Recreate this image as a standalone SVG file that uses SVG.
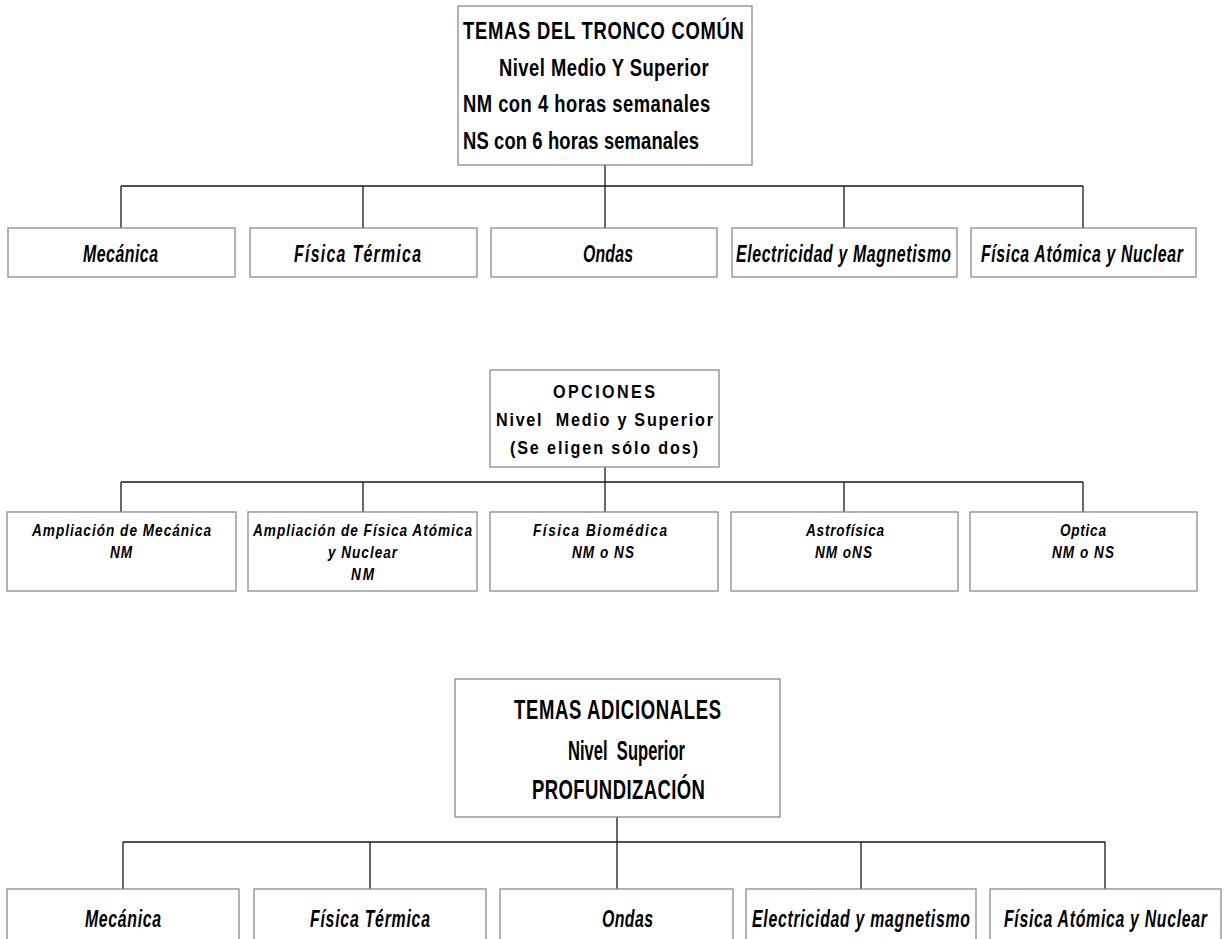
<svg xmlns="http://www.w3.org/2000/svg" width="1226" height="939" viewBox="0 0 1226 939">
<style>
.box{fill:#ffffff;stroke:#8a8a8a;stroke-width:1.3}
.con{fill:none;stroke:#1a1a1a;stroke-width:1.3}
.h{font-family:"Liberation Sans",Arial,sans-serif;font-weight:bold;fill:#000}
.c{font-family:"Liberation Sans",Arial,sans-serif;font-weight:bold;font-style:italic;fill:#000}
.h1{font-size:23px}
.h2{font-size:19px}
.h3{font-size:28px}
.c1{font-size:24px}
.c2{font-size:16px}
</style>
<rect width="1226" height="939" fill="#ffffff"/>
<g id="connectors">
<path class="con" d="M605 165V228M121 186H1083M121 186V228M363 186V228M844 186V228M1083 186V228"/>
<path class="con" d="M605 467V512M121 482H1083M121 482V512M363 482V512M844 482V512M1083 482V512"/>
<path class="con" d="M617 817V889M123 842H1105M123 842V889M370 842V889M861 842V889M1105 842V889"/>
</g>
<g id="tronco">
<rect class="box" x="458" y="6" width="294" height="159"/>
<text class="h h1" transform="matrix(0.8 0 0 1 463 39)" textLength="351" lengthAdjust="spacing">TEMAS DEL TRONCO COMÚN</text>
<text class="h h1" transform="matrix(0.8 0 0 1 499 76)" textLength="262" lengthAdjust="spacing">Nivel Medio Y Superior</text>
<text class="h h1" transform="matrix(0.8 0 0 1 463 112)" textLength="309" lengthAdjust="spacing">NM con 4 horas semanales</text>
<text class="h h1" transform="matrix(0.8 0 0 1 463 149)" textLength="295" lengthAdjust="spacing">NS con 6 horas semanales</text>
</g>
<g id="t-mecanica">
<rect class="box" x="8" y="228" width="227" height="49"/>
<text class="c c1" transform="matrix(0.66 0 0 1 83 262)" textLength="113.6" lengthAdjust="spacing">Mecánica</text>
</g>
<g id="t-termica">
<rect class="box" x="250" y="228" width="227" height="49"/>
<text class="c c1" transform="matrix(0.66 0 0 1 294 262)" textLength="192.4" lengthAdjust="spacing">Física Térmica</text>
</g>
<g id="t-ondas">
<rect class="box" x="491" y="228" width="226" height="49"/>
<text class="c c1" transform="matrix(0.66 0 0 1 583 262)" textLength="75.8" lengthAdjust="spacing">Ondas</text>
</g>
<g id="t-electricidad">
<rect class="box" x="732" y="228" width="225" height="49"/>
<text class="c c1" transform="matrix(0.66 0 0 1 736 262)" textLength="325.8" lengthAdjust="spacing">Electricidad y Magnetismo</text>
</g>
<g id="t-atomica">
<rect class="box" x="971" y="228" width="225" height="49"/>
<text class="c c1" transform="matrix(0.66 0 0 1 981 262)" textLength="306" lengthAdjust="spacing">Física Atómica y Nuclear</text>
</g>
<g id="opciones">
<rect class="box" x="490" y="370" width="229" height="97"/>
<text class="h h2" transform="matrix(0.85 0 0 1 553 398)" textLength="120" lengthAdjust="spacing">OPCIONES</text>
<text class="h h2" transform="matrix(0.85 0 0 1 496 426)" textLength="255.3" lengthAdjust="spacing" xml:space="preserve">Nivel  Medio y Superior</text>
<text class="h h2" transform="matrix(0.85 0 0 1 510 454)" textLength="221.2" lengthAdjust="spacing">(Se eligen sólo dos)</text>
</g>
<g id="o-mecanica">
<rect class="box" x="7" y="512" width="229" height="79"/>
<text class="c c2" transform="matrix(0.85 0 0 1 32 536)" textLength="210.6" lengthAdjust="spacing">Ampliación de Mecánica</text>
<text class="c c2" transform="matrix(0.85 0 0 1 110 558)" textLength="25.9" lengthAdjust="spacing">NM</text>
</g>
<g id="o-atomica">
<rect class="box" x="248" y="512" width="229" height="79"/>
<text class="c c2" transform="matrix(0.85 0 0 1 253 536)" textLength="257.6" lengthAdjust="spacing">Ampliación de Física Atómica</text>
<text class="c c2" transform="matrix(0.85 0 0 1 328 558)" textLength="81.2" lengthAdjust="spacing">y Nuclear</text>
<text class="c c2" transform="matrix(0.85 0 0 1 351 580)" textLength="27.1" lengthAdjust="spacing">NM</text>
</g>
<g id="o-biomedica">
<rect class="box" x="490" y="512" width="228" height="79"/>
<text class="c c2" transform="matrix(0.85 0 0 1 533 536)" textLength="157.6" lengthAdjust="spacing">Física Biomédica</text>
<text class="c c2" transform="matrix(0.85 0 0 1 572 558)" textLength="72.9" lengthAdjust="spacing">NM o NS</text>
</g>
<g id="o-astrofisica">
<rect class="box" x="731" y="512" width="227" height="79"/>
<text class="c c2" transform="matrix(0.85 0 0 1 806 536)" textLength="91.8" lengthAdjust="spacing">Astrofísica</text>
<text class="c c2" transform="matrix(0.85 0 0 1 815 558)" textLength="67" lengthAdjust="spacing">NM oNS</text>
</g>
<g id="o-optica">
<rect class="box" x="970" y="512" width="227" height="79"/>
<text class="c c2" transform="matrix(0.85 0 0 1 1060 536)" textLength="54.1" lengthAdjust="spacing">Optica</text>
<text class="c c2" transform="matrix(0.85 0 0 1 1052 558)" textLength="72.9" lengthAdjust="spacing">NM o NS</text>
</g>
<g id="adicionales">
<rect class="box" x="455" y="679" width="325" height="138"/>
<text class="h h3" transform="matrix(0.66 0 0 1 514 719)" textLength="313.6" lengthAdjust="spacing">TEMAS ADICIONALES</text>
<text class="h h3" transform="matrix(0.59 0 0 1 568 760)" textLength="198.3" lengthAdjust="spacing" xml:space="preserve">Nivel  Superior</text>
<text class="h h3" transform="matrix(0.66 0 0 1 532 799)" textLength="262.1" lengthAdjust="spacing">PROFUNDIZACIÓN</text>
</g>
<g id="a-mecanica">
<rect class="box" x="7" y="889" width="232" height="70"/>
<text class="c c1" transform="matrix(0.66 0 0 1 85 927)" textLength="115.2" lengthAdjust="spacing">Mecánica</text>
</g>
<g id="a-termica">
<rect class="box" x="254" y="889" width="232" height="70"/>
<text class="c c1" transform="matrix(0.66 0 0 1 310 927)" textLength="181.8" lengthAdjust="spacing">Física Térmica</text>
</g>
<g id="a-ondas">
<rect class="box" x="500" y="889" width="233" height="70"/>
<text class="c c1" transform="matrix(0.66 0 0 1 602 927)" textLength="77.3" lengthAdjust="spacing">Ondas</text>
</g>
<g id="a-electricidad">
<rect class="box" x="746" y="889" width="230" height="70"/>
<text class="c c1" transform="matrix(0.66 0 0 1 752 927)" textLength="330.3" lengthAdjust="spacing">Electricidad y magnetismo</text>
</g>
<g id="a-atomica">
<rect class="box" x="990" y="889" width="231" height="70"/>
<text class="c c1" transform="matrix(0.66 0 0 1 1004 927)" textLength="307.6" lengthAdjust="spacing">Física Atómica y Nuclear</text>
</g>
</svg>
